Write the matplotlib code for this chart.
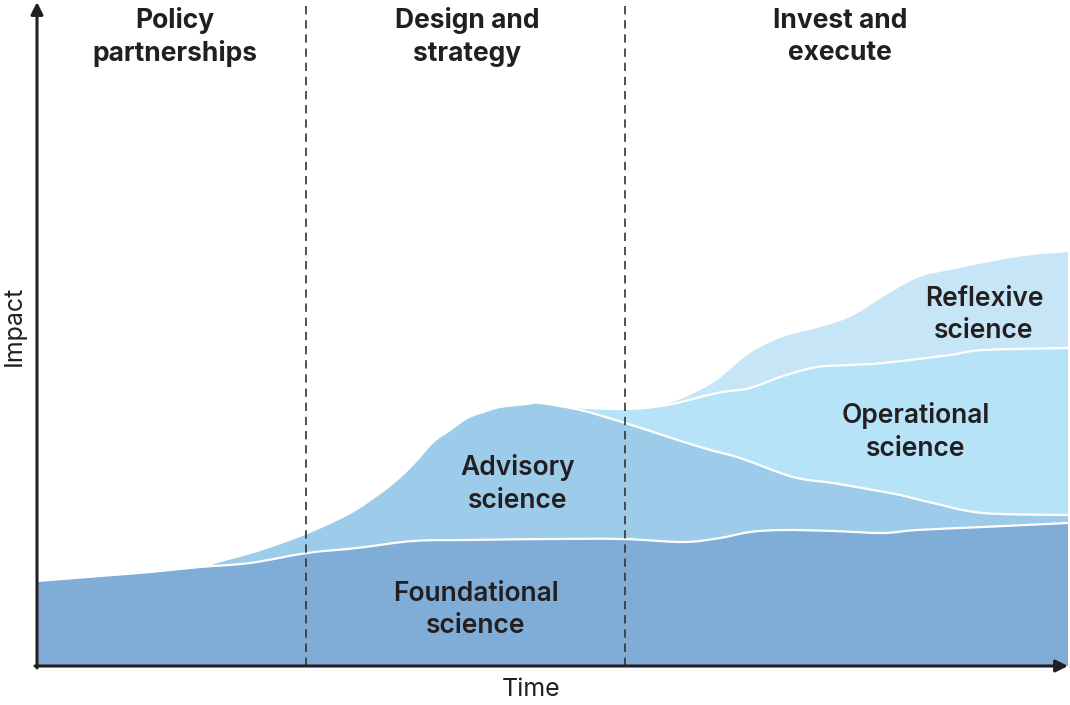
import matplotlib
matplotlib.use("Agg")
import matplotlib.pyplot as plt
from matplotlib.path import Path
from matplotlib.patches import PathPatch

# layer upper edges (time, impact)
found_t = [0, 63, 113, 163, 213, 270, 320, 376, 430, 513, 586, 646, 683, 713, 746, 796, 846, 880, 946, 1031]
found_v = [85, 90, 94, 99, 103, 113, 118, 125, 126, 127, 127, 124, 128, 134, 136, 135, 133, 136, 139, 143]

advis_t = [176, 223, 270, 313, 343, 363, 380, 396, 413, 430, 446, 463, 490, 503, 543, 588, 663, 703, 756, 796, 836, 863, 896, 946, 1031]
advis_v = [103, 116, 133, 153, 173, 189, 206, 224, 236, 248, 254, 259, 262, 263, 256, 243, 219, 208, 189, 183, 176, 171, 163, 153, 151]

oper_t = [531, 588, 630, 680, 713, 746, 780, 813, 846, 913, 946, 1031]
oper_v = [259, 257, 261, 273, 278, 290, 299, 301, 303, 311, 316, 318]

refl_t = [628, 653, 680, 713, 746, 780, 813, 846, 880, 913, 980, 1031]
refl_v = [261, 271, 286, 313, 329, 338, 349, 369, 388, 396, 409, 414]

phase_edges = [269, 588]
phase_names = ["Policy\npartnerships", "Design and\nstrategy", "Invest and\nexecute"]
phase_pos = [138, 430, 803]

layer_names = ["Reflexive\nscience", "Operational\nscience", "Advisory\nscience", "Foundational\nscience"]
layer_pos = [(947, 351), (879, 234), (481, 182), (439, 56)]

colors = {"refl": "#c6e6f7", "oper": "#b7e3f8", "advis": "#9dcceb", "found": "#7fadd7"}


def curve(xs, ys):
    # bezier segments through the read points (catmull-rom style handles)
    pts = list(zip(xs, ys))
    verts = [pts[0]]
    codes = [Path.MOVETO]
    for i in range(len(pts) - 1):
        p0 = pts[i - 1] if i > 0 else pts[i]
        p1, p2 = pts[i], pts[i + 1]
        p3 = pts[i + 2] if i + 2 < len(pts) else p2
        c1 = (p1[0] + (p2[0] - p0[0]) / 6, p1[1] + (p2[1] - p0[1]) / 6)
        c2 = (p2[0] - (p3[0] - p1[0]) / 6, p2[1] - (p3[1] - p1[1]) / 6)
        verts += [c1, c2, p2]
        codes += [Path.CURVE4] * 3
    return verts, codes


def area(ax, xs, ys, color):
    verts, codes = curve(xs, ys)
    verts = verts + [(xs[-1], 0), (xs[0], 0), (xs[0], 0)]
    codes = codes + [Path.LINETO, Path.LINETO, Path.CLOSEPOLY]
    ax.add_patch(PathPatch(Path(verts, codes), facecolor=color, lw=0))


def edge(ax, xs, ys):
    verts, codes = curve(xs, ys)
    ax.add_patch(PathPatch(Path(verts, codes), facecolor="none", edgecolor="white", lw=1.6))


plt.rcParams["font.family"] = ["Inter", "DejaVu Sans"]

fig = plt.figure(figsize=(10.7, 7.05), dpi=100)
ax = fig.add_axes([37 / 1070, 39 / 705, 1031 / 1070, 664 / 705])
ax.set_xlim(0, 1031)
ax.set_ylim(0, 664)
ax.axis("off")

# paint top layer first, each lower layer covers the one above
area(ax, refl_t, refl_v, colors["refl"])
area(ax, oper_t, oper_v, colors["oper"])
area(ax, advis_t, advis_v, colors["advis"])
area(ax, found_t, found_v, colors["found"])

for t, v in [(oper_t, oper_v), (advis_t, advis_v), (found_t, found_v)]:
    edge(ax, t, v)

for x in phase_edges:
    ax.plot([x, x], [0, 664], color="#333333", lw=1.2, linestyle=(0, (5, 3.5)))

for name, x in zip(phase_names, phase_pos):
    ax.text(x, 629, name, ha="center", va="center", fontsize=19, fontweight="bold",
            color="#231f20", linespacing=1.33)

for name, (x, y) in zip(layer_names, layer_pos):
    ax.text(x, y, name, ha="center", va="center", fontsize=19, fontweight="semibold",
            color="#231f20", linespacing=1.33)

# axes with arrow heads
arrow = dict(arrowstyle="-|>", lw=2.2, color="#231f20", mutation_scale=18, shrinkA=0, shrinkB=0)
ax.annotate("", xy=(1.0, 0), xytext=(-0.002, 0), xycoords="axes fraction", arrowprops=arrow)
ax.annotate("", xy=(0, 1.0), xytext=(0, -0.003), xycoords="axes fraction", arrowprops=arrow)

fig.text(14 / 1070, 1 - 326 / 705, "Impact", rotation=90, ha="center", va="center",
         fontsize=18, color="#231f20")
fig.text(531 / 1070, 1 - 690 / 705, "Time", ha="center", va="center",
         fontsize=18, color="#231f20")

fig.savefig("out.png", dpi=100)
